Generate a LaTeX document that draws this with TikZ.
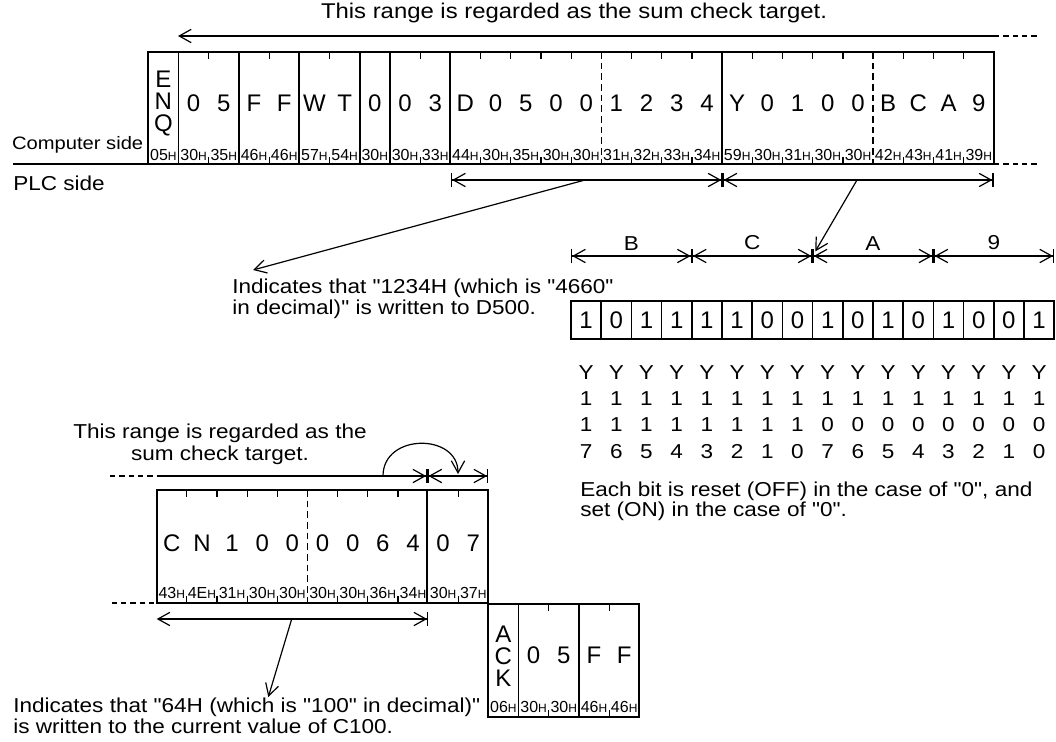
\documentclass[tikz,border=0pt]{standalone}
\usepackage{fontspec}
\setmainfont{Liberation Sans}[Ligatures=TeXOff]
\newfontfamily\widesans{Liberation Sans}[Ligatures=TeXOff,FakeStretch=1.12]
\usepackage{tikz}
\usetikzlibrary{arrows.meta,positioning,calc}

\newcommand{\hexH}[1]{#1{\fontsize{9}{9}\selectfont H}}

\tikzset{
  barbtip/.tip={Straight Barb[length=9pt,width=10pt,sep=0pt]},
  bartip/.tip={Bar[width=10pt,sep=0pt]},
  txt/.style={font=\widesans\fontsize{15.1}{15.5}\selectfont,inner sep=0pt},
  chr/.style={font=\fontsize{18}{18}\selectfont,inner sep=0pt},
  hexlbl/.style={font=\fontsize{12}{12}\selectfont,inner sep=0pt},
  frameline/.style={line width=1.3pt},
  tickline/.style={line width=0.9pt},
  dividerline/.style={line width=1.2pt,dash pattern=on 5pt off 3pt},
  conn/.style={line width=0.9pt},
  dimline/.style={conn,{bartip[]barbtip[]}-{barbtip[]bartip[]}},
  dashline/.style={line width=1.3pt,dash pattern=on 4pt off 3pt},
}

\begin{document}
\begin{tikzpicture}[x=0.75pt,y=-0.75pt]
  \useasboundingbox (0,0) rectangle (1056,742);

  % Sum check range (top)
  \node[txt,font=\widesans\fontsize{16}{16}\selectfont] (title) at (574,13) {This range is regarded as the sum check target.};
  \coordinate (rngL) at (178,36);
  \coordinate (rngR) at (994,36);
  \coordinate (rngE) at (1037,36);
  \draw[conn,{barbtip[]}-] (rngL) -- (rngR);
  \draw[dashline] (rngR) -- (rngE);

  % Computer side frame
  \draw[frameline] (148.3,52) rectangle (994,164.3);
  \foreach \i in {1,3,5,7,8,10,19}
    \draw[frameline] ({148.3+\i*30.2},52) -- ++(0,112.3);
  \foreach \i in {15,24}
    \draw[dividerline] ({148.3+\i*30.2},52) -- ++(0,112.3);
  \foreach \i in {2,4,6,9,11,12,13,14,16,17,18,20,21,22,23,25,26,27} {
    \draw[tickline] ({148.3+\i*30.2},52) -- ++(0,7);
    \draw[tickline] ({148.3+\i*30.2},164.3) -- ++(0,-7);
  }
  \node[chr,align=center,font=\fontsize{18}{16.5}\selectfont] (enq) at (163.4,104) {E\\N\\Q};
  \foreach \c [count=\i] in {0,5,F,F,W,T,0,0,3,D,0,5,0,0,1,2,3,4,Y,0,1,0,0,B,C,A,9}
    \node[chr] (tc\i) at ({148.3+(\i+0.5)*30.2},103) {\c};
  \foreach \h [count=\i from 0] in {05,30,35,46,46,57,54,30,30,33,44,30,35,30,30,31,32,33,34,59,30,31,30,30,42,43,41,39}
    \node[hexlbl] (th\i) at ({148.3+(\i+0.5)*30.2},155) {\hexH{\h}};

  % Computer / PLC separation
  \draw[frameline] (13,164.3) -- (148.3,164.3);
  \draw[dashline] (994,164.3) -- (1037,164.3);
  \node[txt,anchor=east,font=\widesans\fontsize{13.5}{13.5}\selectfont] (pc) at (143.5,145) {Computer side};
  \node[txt,anchor=west] (plc) at (13,183) {PLC side};

  % D500 / Y100 ranges
  \coordinate (dA) at (451,180);
  \coordinate (dB) at (722.5,180);
  \coordinate (dC) at (993.5,180);
  \draw[dimline] (dA) -- (dB);
  \draw[dimline] (dB) -- (dC);
  \coordinate (dsrc) at (585,180);
  \coordinate (ind1tip) at (253,270);
  \draw[conn,-{barbtip[]}] (dsrc) -- (ind1tip);
  \node[txt,anchor=north west,align=left] (ind1) at (232,279)
    {Indicates that "1234H (which is "4660"\\in decimal)" is written to D500.};

  % Nibbles
  \foreach \k in {0,...,4}
    \coordinate (n\k) at ({571+\k*120.8},256);
  \foreach \a/\b/\l in {0/1/B,1/2/C,2/3/A,3/4/9}
    \draw[dimline] (n\a) -- (n\b) node[midway,above=4pt,txt] (nib\a) {\l};
  \coordinate (ysrc) at (857,180);
  \draw[conn,-{barbtip[]},shorten >=4pt] (ysrc) -- (n2);

  % Bits
  \foreach \b [count=\i from 0] in {1,0,1,1,1,1,0,0,1,0,1,0,1,0,0,1} {
    \draw[frameline] ({571+\i*30.2},301) rectangle ++(30.2,38);
    \node[chr] (bit\i) at ({571+(\i+0.5)*30.2},320) {\b};
  }
  \foreach \hi/\lo [count=\i from 0] in {1/7,1/6,1/5,1/4,1/3,1/2,1/1,1/0,
                                         0/7,0/6,0/5,0/4,0/3,0/2,0/1,0/0} {
    \node[txt,anchor=base] (yy\i) at ({571+(\i+0.5)*30.2},379.2) {Y};
    \node[txt,anchor=base] (ya\i) at ({571+(\i+0.5)*30.2},405.2) {1};
    \node[txt,anchor=base] (yb\i) at ({571+(\i+0.5)*30.2},431.7) {\hi};
    \node[txt,anchor=base] (yc\i) at ({571+(\i+0.5)*30.2},458.2) {\lo};
  }
  \node[txt,anchor=north west,align=left,font=\widesans\fontsize{15.1}{15}\selectfont] (note) at (580,482)
    {Each bit is reset (OFF) in the case of "0", and\\set (ON) in the case of "0".};

  % Sum check range (bottom)
  \node[txt,align=center,font=\widesans\fontsize{15.1}{16.5}\selectfont] (title2) at (220,444) {This range is regarded as the\\sum check target.};
  \coordinate (ldash) at (110,476);
  \coordinate (lL) at (156.7,476);
  \coordinate (lM) at (427.3,476);
  \coordinate (lR) at (488.3,476);
  \draw[dashline] (ldash) -- (lL);
  \draw[conn,-{barbtip[]bartip[]}] (lL) -- (lM);
  \draw[dimline] (lM) -- (lR);
  \coordinate (cS) at (383,476);
  \coordinate (cE) at (458,474);
  \draw[conn,-{barbtip[]}] (cS) .. controls (383,433) and (458,433) .. (cE);

  % Response frame
  \draw[frameline] (156.7,490) rectangle (488.3,603.3);
  \draw[frameline] (427.3,490) -- (427.3,603.3);
  \draw[dividerline] (307.4,490) -- (307.4,603.3);
  \foreach \i in {1,2,3,4,6,7,8,10} {
    \draw[tickline] ({156.7+\i*30.15},490) -- ++(0,7);
    \draw[tickline] ({156.7+\i*30.15},603.3) -- ++(0,-7);
  }
  \foreach \c [count=\i from 0] in {C,N,1,0,0,0,0,6,4,0,7}
    \node[chr] (rc\i) at ({156.7+(\i+0.5)*30.15},543) {\c};
  \foreach \h [count=\i from 0] in {43,4E,31,30,30,30,30,36,34,30,37}
    \node[hexlbl] (rh\i) at ({156.7+(\i+0.5)*30.15},593) {\hexH{\h}};
  \draw[dashline] (111.7,603.3) -- (156.7,603.3);

  % C100 range
  \coordinate (bL) at (156.7,619);
  \coordinate (bR) at (428.3,619);
  \draw[conn,{barbtip[]}-{barbtip[]bartip[]}] (bL) -- (bR);
  \coordinate (bsrc) at (291.7,619);
  \coordinate (ind2tip) at (268.3,697);
  \draw[conn,-{barbtip[]}] (bsrc) -- (ind2tip);
  \node[txt,anchor=north west,align=left] (ind2) at (13,698)
    {Indicates that "64H (which is "100" in decimal)"\\is written to the current value of C100.};

  % ACK frame
  \draw[frameline] (488.3,604) rectangle (639.3,717.3);
  \foreach \i in {1,3}
    \draw[frameline] ({488.3+\i*30.2},604) -- ++(0,113.3);
  \foreach \i in {2,4} {
    \draw[tickline] ({488.3+\i*30.2},604) -- ++(0,7);
    \draw[tickline] ({488.3+\i*30.2},717.3) -- ++(0,-7);
  }
  \node[chr,align=center,font=\fontsize{18}{16.5}\selectfont] (ack) at (503.4,656) {A\\C\\K};
  \foreach \c [count=\i] in {0,5,F,F}
    \node[chr] (ac\i) at ({488.3+(\i+0.5)*30.2},655) {\c};
  \foreach \h [count=\i from 0] in {06,30,30,46,46}
    \node[hexlbl] (ah\i) at ({488.3+(\i+0.5)*30.2},707) {\hexH{\h}};
\end{tikzpicture}
\end{document}
